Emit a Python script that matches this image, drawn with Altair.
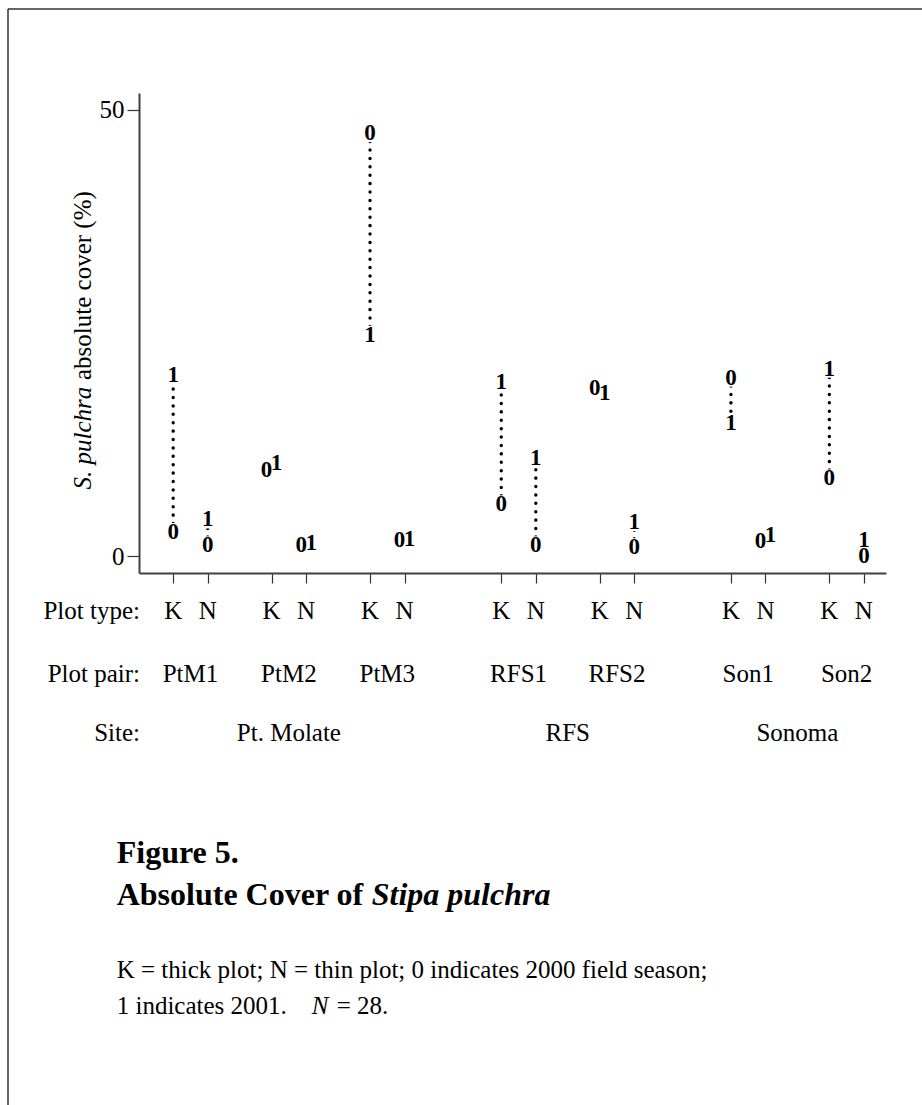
import altair as alt
import pandas as pd

# Plot pairs, the site each belongs to, and plot types
pairs = ["PtM1", "PtM2", "PtM3", "RFS1", "RFS2", "Son1", "Son2"]
sites = ["Pt. Molate", "Pt. Molate", "Pt. Molate", "RFS", "RFS", "Sonoma", "Sonoma"]
plot_types = ["K", "N"]

# S. pulchra absolute cover (%) per plot pair; 0 = 2000 season, 1 = 2001 season
cover_K_2000 = [2.7, 9.6, 47.4, 5.8, 18.8, 20.0, 8.7]
cover_K_2001 = [20.3, 10.4, 24.8, 19.5, 18.3, 14.9, 21.0]
cover_N_2000 = [1.2, 1.2, 1.8, 1.2, 1.0, 1.7, 0.0]
cover_N_2001 = [4.1, 1.5, 1.9, 11.0, 3.8, 2.4, 1.8]

# Horizontal layout of the categorical axis (in K-to-N steps)
PAIR_STEP = 2.85   # K of one pair to K of the next pair within a site
SITE_STEP = 3.8    # K of the last pair of a site to K of the next site
NEAR = 1.2         # values closer than this are printed side by side
FONT = "Liberation Serif"

k_pos = []
x = 0.0
for i in range(len(pairs)):
    if i > 0:
        x += SITE_STEP if sites[i] != sites[i - 1] else PAIR_STEP
    k_pos.append(round(x, 3))

values = {"K": (cover_K_2000, cover_K_2001), "N": (cover_N_2000, cover_N_2001)}

point_rows, seg_rows, type_rows = [], [], []
for i, p in enumerate(pairs):
    for j, t in enumerate(plot_types):
        pos = k_pos[i] + j
        v0, v1 = values[t][0][i], values[t][1][i]
        close = abs(v0 - v1) < NEAR
        point_rows.append({"pos": pos, "cover": v0, "year": "0", "side": "left" if close else "mid"})
        point_rows.append({"pos": pos, "cover": v1, "year": "1", "side": "right" if close else "mid"})
        if not close:
            seg_rows.append({"pos": pos, "c0": v0, "c1": v1})
        type_rows.append({"pos": pos, "label": t})

points = pd.DataFrame(point_rows)
segs = pd.DataFrame(seg_rows)
types_df = pd.DataFrame(type_rows)
pair_df = pd.DataFrame({"pos": [k + 0.5 for k in k_pos], "label": pairs})
site_df = (
    pd.DataFrame({"site": sites, "pos": [k + 0.5 for k in k_pos]})
    .groupby("site", sort=False, as_index=False)["pos"].mean()
)

W, H = 747, 480
x_scale = alt.Scale(domain=[-0.99, 20.64], nice=False, zero=False)
y_scale = alt.Scale(domain=[-1.9, 51.9], nice=False, zero=False)

base = alt.Chart(points)

# Dotted connector between the two seasons
rules = alt.Chart(segs).mark_rule(
    color="black", strokeWidth=3.4, strokeDash=[0.1, 8.3], strokeCap="round"
).encode(
    x=alt.X("pos:Q", scale=x_scale,
            axis=alt.Axis(values=[r["pos"] for r in type_rows], labels=False,
                          title=None, tickSize=10)),
    y=alt.Y("c0:Q", scale=y_scale,
            axis=alt.Axis(values=[0, 50], title=None, tickSize=12, labelPadding=3)),
    y2="c1:Q",
)

# White pad behind centred season digits so the dots stop short of them
pads = base.transform_filter("datum.side == 'mid'").mark_square(
    size=324, color="white", opacity=1
).encode(x="pos:Q", y="cover:Q")

digit_style = dict(font=FONT, fontWeight="bold", fontSize=23, color="black",
                   baseline="middle", align="center")
digits = [
    base.transform_filter(f"datum.side == '{side}'").mark_text(dx=dx, **digit_style)
    .encode(x="pos:Q", y="cover:Q", text="year:N")
    for side, dx in [("mid", 0), ("left", -5), ("right", 5)]
]

row_style = dict(font=FONT, fontSize=25, color="black", baseline="middle")
type_text = alt.Chart(types_df).mark_text(align="center", **row_style).encode(
    x="pos:Q", y=alt.value(518), text="label:N")
pair_text = alt.Chart(pair_df).mark_text(align="center", **row_style).encode(
    x="pos:Q", y=alt.value(581), text="label:N")
site_text = alt.Chart(site_df).mark_text(align="center", **row_style).encode(
    x="pos:Q", y=alt.value(640), text="site:N")

row_names = pd.DataFrame({"name": ["Plot type:", "Plot pair:", "Site:"], "ypix": [518, 581, 640]})
row_text = alt.Chart(row_names).mark_text(align="right", **row_style).encode(
    x=alt.value(1), y=alt.Y("ypix:Q", scale=None), text="name:N")

# Y-axis title with italic species name
ytitle_it = alt.Chart(pd.DataFrame({"t": ["S. pulchra"]})).mark_text(
    font=FONT, fontSize=25, fontStyle="italic", angle=270, align="right",
    baseline="middle", color="black").encode(
    x=alt.value(-56), y=alt.value(293.7), text="t:N")
ytitle_rm = alt.Chart(pd.DataFrame({"t": ["absolute cover (%)"]})).mark_text(
    font=FONT, fontSize=25, angle=270, align="left",
    baseline="middle", color="black").encode(
    x=alt.value(-56), y=alt.value(287), text="t:N")

# Figure caption
def caption(text, xpx, ypx, size, weight="normal", style="normal"):
    return alt.Chart(pd.DataFrame({"t": [text]})).mark_text(
        font=FONT, fontSize=size, fontWeight=weight, fontStyle=style,
        align="left", baseline="middle", color="black").encode(
        x=alt.value(xpx), y=alt.value(ypx), text="t:N")

captions = [
    caption("Figure 5.", -22.3, 760, 32, "bold"),
    caption("Absolute Cover of", -22.3, 802, 32, "bold"),
    caption("Stipa pulchra", 232.7, 802, 32, "bold", "italic"),
    caption("K = thick plot; N = thin plot; 0 indicates 2000 field season;", -22.3, 877, 25),
    caption("1 indicates 2001.", -22.3, 913, 25),
    caption("N", 172.7, 913, 25, style="italic"),
    caption("= 28.", 197.7, 913, 25),
]

# Page frame (top and left edges)
frame_left = alt.Chart(pd.DataFrame({"a": [0]})).mark_rule(color="#333", strokeWidth=1.5).encode(
    x=alt.value(-131), y=alt.value(-84), y2=alt.value(1012))
frame_top = alt.Chart(pd.DataFrame({"a": [0]})).mark_rule(color="#333", strokeWidth=1.5).encode(
    x=alt.value(-131), x2=alt.value(783), y=alt.value(-84))

chart = alt.layer(
    rules, pads, *digits, type_text, pair_text, site_text, row_text,
    ytitle_it, ytitle_rm, *captions, frame_left, frame_top,
).properties(
    width=W, height=H,
    autosize=alt.AutoSizeParams(type="none"),
    padding={"left": 139, "top": 93, "right": 36, "bottom": 532},
    background="white",
).configure_view(
    stroke=None
).configure_axis(
    grid=False, labelFont=FONT, labelFontSize=25, labelColor="black",
    tickColor="#333", tickWidth=1.2, domainColor="#404040", domainWidth=2,
).configure_axisY(
    tickSize=12, labelPadding=3,
).configure_axisX(
    tickSize=10, labels=False,
)

chart.save("out.html", embed_options={"renderer": "svg", "actions": False})
